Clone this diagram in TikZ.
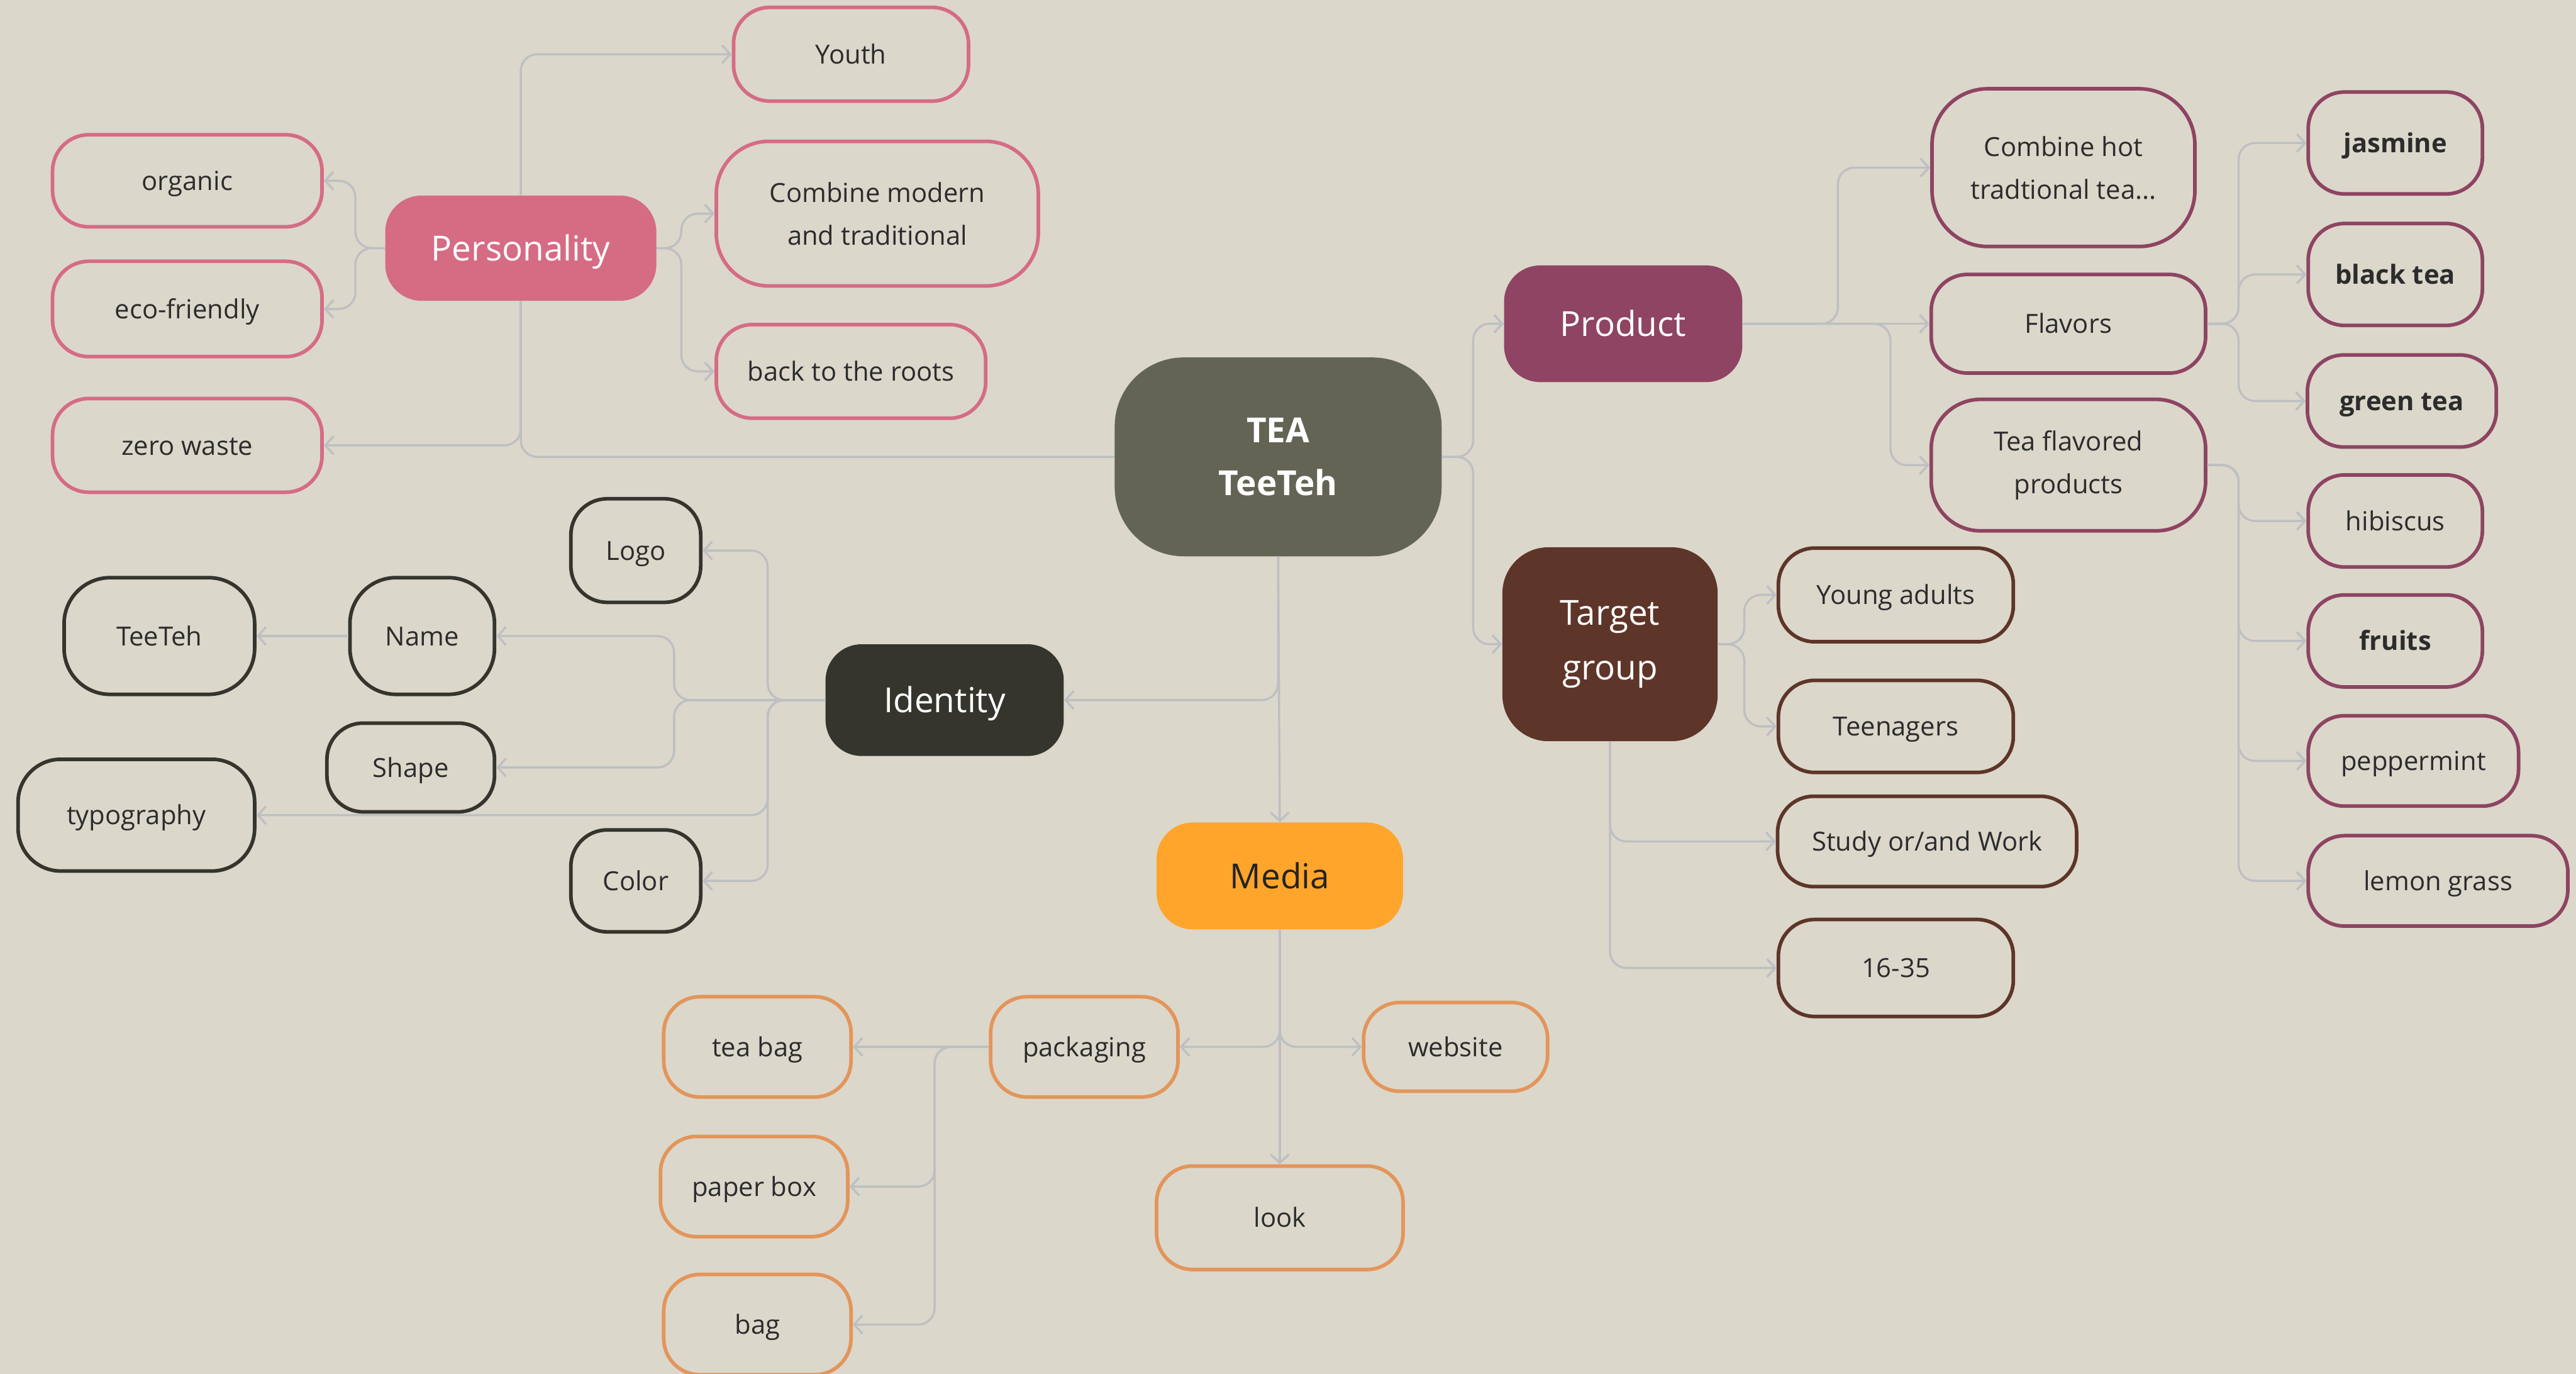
\documentclass[tikz,border=0pt]{standalone}
\usepackage{fontspec}
\setmainfont{Open Sans}
\usetikzlibrary{arrows.meta}

\definecolor{bgc}{HTML}{DBD7CB}
\definecolor{linec}{HTML}{BEBFC2}
\definecolor{txt}{HTML}{2C2C2C}
\definecolor{pinkc}{HTML}{D56C84}
\definecolor{darkc}{HTML}{35352D}
\definecolor{olivec}{HTML}{646455}
\definecolor{orangec}{HTML}{FFA52B}
\definecolor{orangeb}{HTML}{E3955A}
\definecolor{plumc}{HTML}{8E4462}
\definecolor{brownc}{HTML}{5E3529}

\tikzset{
  sz/.style n args={2}{minimum width=#1pt, minimum height=#2pt},
  hub/.style={rectangle, rounded corners=22pt, inner sep=0pt, align=center,
    text=white, font=\fontsize{21}{33}\selectfont, text height=17pt, text depth=1.8pt},
  leaf/.style={rectangle, draw=#1, line width=2.2pt, rounded corners=22pt,
    inner sep=0pt, align=center, text=txt, font=\fontsize{16}{26}\selectfont,
    text height=13pt, text depth=1.4pt},
  multi/.style={text height=, text depth=},
  strong/.style={font=\bfseries\fontsize{16}{26}\selectfont},
  link/.style={draw=linec, line width=1.3pt, rounded corners=10pt},
  arr/.style={link, -{Straight Barb[length=5pt,width=11pt,line width=1.3pt]}},
}

\begin{document}
\begin{tikzpicture}[x=1pt, y=-1pt]
  \fill[bgc] (0,0) rectangle (1568,836);
  \useasboundingbox (0,0) rectangle (1568,836);

  % centre and main branches
  \node[hub, multi, fill=olivec, rounded corners=42pt, sz={199}{121},
        font=\bfseries\fontsize{21}{32}\selectfont] (tea) at (778,278) {\rule{0pt}{4pt}TEA\\TeeTeh};
  \node[hub, fill=pinkc, sz={165}{64}] (pers) at (317,151) {Personality};
  \node[hub, fill=darkc, sz={145}{68}] (ident) at (575,426) {Identity};
  \node[hub, fill=orangec, sz={150}{65}, text=txt!80!black] (media) at (779,533) {Media};
  \node[hub, fill=plumc, sz={145}{71}] (prod) at (988,197) {Product};
  \node[hub, multi, fill=brownc, rounded corners=28pt, sz={131}{118}] (target) at (980,392) {Target\\group};

  % personality
  \node[leaf=pinkc, sz={143}{57}] (youth) at (518,33) {Youth};
  \node[leaf=pinkc, multi, sz={196}{88}, rounded corners=32pt] (cmt) at (534,130) {Combine modern\\and traditional};
  \node[leaf=pinkc, sz={164}{57}] (roots) at (518,226) {back to the roots};
  \node[leaf=pinkc, sz={164}{56}] (organic) at (114,110) {organic};
  \node[leaf=pinkc, sz={164}{58}] (eco) at (114,188) {eco-friendly};
  \node[leaf=pinkc, sz={164}{57}] (zero) at (114,271) {zero waste};

  % identity
  \node[leaf=darkc, sz={79}{63}] (logo) at (387,335) {Logo};
  \node[leaf=darkc, sz={88}{71}, rounded corners=28pt] (name) at (257,387) {Name};
  \node[leaf=darkc, sz={116}{71}, rounded corners=28pt] (teeteh) at (97,387) {TeeTeh};
  \node[leaf=darkc, sz={102}{54}] (shape) at (250,467) {Shape};
  \node[leaf=darkc, sz={144}{68}, rounded corners=26pt] (typo) at (83,496) {typography};
  \node[leaf=darkc, sz={79}{62}] (color) at (387,536) {Color};

  % media
  \node[leaf=orangeb, sz={114}{61}] (pack) at (660,637) {packaging};
  \node[leaf=orangeb, sz={112}{54}] (web) at (886,637) {website};
  \node[leaf=orangeb, sz={150}{63}] (look) at (779,741) {look};
  \node[leaf=orangeb, sz={114}{61}] (teabag) at (461,637) {tea bag};
  \node[leaf=orangeb, sz={114}{61}] (paper) at (459,722) {paper box};
  \node[leaf=orangeb, sz={114}{61}] (bag) at (461,806) {bag};

  % product
  \node[leaf=plumc, multi, sz={160}{96}, rounded corners=34pt] (hot) at (1256,102) {Combine hot\\tradtional tea...};
  \node[leaf=plumc, sz={167}{60}] (flav) at (1259,197) {Flavors};
  \node[leaf=plumc, multi, sz={167}{80}, rounded corners=30pt] (tfp) at (1259,283) {Tea flavored\\products};
  \node[leaf=plumc, strong, sz={106}{62}] (jas) at (1458,87) {jasmine};
  \node[leaf=plumc, strong, sz={106}{62}] (black) at (1458,167) {black tea};
  \node[leaf=plumc, strong, sz={115}{56}] (green) at (1462,244) {green tea};
  \node[leaf=plumc, sz={106}{56}] (hib) at (1458,317) {hibiscus};
  \node[leaf=plumc, strong, sz={106}{56}] (fruit) at (1458,390) {fruits};
  \node[leaf=plumc, sz={128}{55}] (pep) at (1469,463) {peppermint};
  \node[leaf=plumc, sz={158}{55}] (lemon) at (1484,536) {lemon grass};

  % target group
  \node[leaf=brownc, sz={143}{57}] (young) at (1154,362) {Young adults};
  \node[leaf=brownc, sz={143}{56}] (teen) at (1154,442) {Teenagers};
  \node[leaf=brownc, sz={182}{55}] (study) at (1173,512) {Study or/and Work};
  \node[leaf=brownc, sz={143}{59}] (age) at (1154,589) {16-35};

  % connectors: centre
  \draw[link] (tea.west) -| (pers.south);
  \draw[arr] (tea.south) |- (ident.east);
  \draw[arr] (tea.south) -- (media.north);
  \draw[arr] (tea.east) -- ++(19,0) |- (prod.west);
  \draw[arr] (tea.east) -- ++(19,0) |- (target.west);

  % connectors: personality
  \draw[arr] (pers.north) |- (youth.west);
  \draw[arr] (pers.south) |- (zero.east);
  \draw[arr] (pers.west) -- ++(-18,0) |- (organic.east);
  \draw[arr] (pers.west) -- ++(-18,0) |- (eco.east);
  \draw[arr] (pers.east) -- ++(15,0) |- (cmt.west);
  \draw[arr] (pers.east) -- ++(15,0) |- (roots.west);

  % connectors: identity
  \draw[arr] (ident.west) -- ++(-35,0) |- (logo.east);
  \draw[arr] (ident.west) -- ++(-35,0) |- (color.east);
  \draw[arr] (ident.west) -- ++(-35,0) |- (typo.east);
  \draw[arr] (ident.west) -- ++(-92,0) |- (name.east);
  \draw[arr] (ident.west) -- ++(-92,0) |- (shape.east);
  \draw[arr] (name.west) -- (teeteh.east);

  % connectors: media
  \draw[arr] (media.south) -- (look.north);
  \draw[arr] (media.south) |- (pack.east);
  \draw[arr] (media.south) |- (web.west);
  \draw[arr] (pack.west) -- (teabag.east);
  \draw[arr] (pack.west) -- ++(-33,0) |- (paper.east);
  \draw[arr] (pack.west) -- ++(-33,0) |- (bag.east);

  % connectors: product
  \draw[arr] (prod.east) -- ++(58,0) |- (hot.west);
  \draw[arr] (prod.east) -- (flav.west);
  \draw[arr] (prod.east) -- ++(90,0) |- (tfp.west);
  \draw[arr] (flav.east) -- ++(19,0) |- (jas.west);
  \draw[arr] (flav.east) -- ++(19,0) |- (black.west);
  \draw[arr] (flav.east) -- ++(19,0) |- (green.west);
  \draw[arr] (tfp.east) -- ++(19,0) |- (hib.west);
  \draw[arr] (tfp.east) -- ++(19,0) |- (fruit.west);
  \draw[arr] (tfp.east) -- ++(19,0) |- (pep.west);
  \draw[arr] (tfp.east) -- ++(19,0) |- (lemon.west);

  % connectors: target group
  \draw[arr] (target.east) -- ++(16,0) |- (young.west);
  \draw[arr] (target.east) -- ++(16,0) |- (teen.west);
  \draw[arr] (target.south) |- (study.west);
  \draw[arr] (target.south) |- (age.west);
\end{tikzpicture}
\end{document}
